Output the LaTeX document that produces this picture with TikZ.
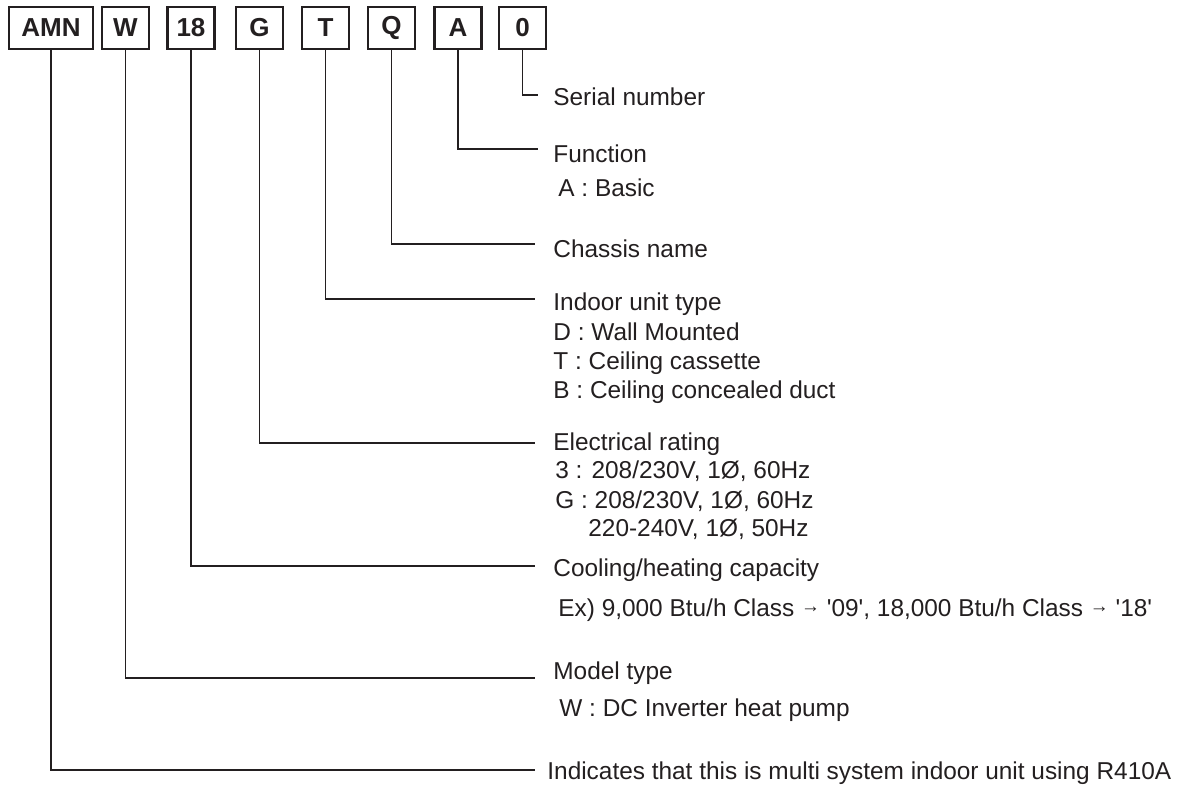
\documentclass[tikz,border=0pt]{standalone}
\usepackage{fontspec}
\newfontfamily\lib{Liberation Sans}
\definecolor{ink}{HTML}{231F20}
\newcommand{\smallarrow}{\raisebox{1.8pt}{\fontsize{9.5}{9.5}\selectfont →}}
\begin{document}
\begin{tikzpicture}[x=0.5pt,y=-0.5pt,
  codebox/.style={draw=ink, line width=1.2pt, minimum height=21pt, minimum width=23.5pt, inner sep=0pt,
    font=\lib\fontsize{13}{13}\selectfont\bfseries, text=ink},
  lbl/.style={anchor=base west, inner sep=0pt, text=ink, font=\lib\fontsize{12.2}{14.6}\selectfont},
  conn/.style={draw=ink, line width=0.95pt}]
\useasboundingbox (0,0) rectangle (1179,789);
% code boxes
\node[codebox, minimum width=42pt] (bAMN) at (51,28) {AMN};
\node[codebox] (bW) at (125.5,28) {W};
\node[codebox] (b18) at (191,28) {18};
\node[codebox] (bG) at (259.5,28) {G};
\node[codebox] (bT) at (325.5,28) {T};
\node[codebox] (bQ) at (391.5,28) {Q};
\node[codebox] (bA) at (458,28) {A};
\node[codebox] (b0) at (522.5,28) {0};
% connector ends
\coordinate (eSerial) at (538,95);
\coordinate (eFunc) at (538,149);
\coordinate (eChassis) at (535,244);
\coordinate (eIndoor) at (535,299);
\coordinate (eElec) at (535,443);
\coordinate (eCool) at (535,566);
\coordinate (eModel) at (535,678);
\coordinate (eInd) at (535,770);
\draw[conn] (b0.south) |- (eSerial);
\draw[conn] (bA.south) |- (eFunc);
\draw[conn] (bQ.south) |- (eChassis);
\draw[conn] (bT.south) |- (eIndoor);
\draw[conn] (bG.south) |- (eElec);
\draw[conn] (b18.south) |- (eCool);
\draw[conn] (bW.south) |- (eModel);
\draw[conn] (bAMN.south) |- (eInd);
% labels
\node[lbl] (tSerial) at (553,105) {Serial number};
\node[lbl] (tFunc) at (553,162) {Function};
\node[lbl] (tFuncA) at (558,196) {A : Basic};
\node[lbl] (tChassis) at (553,257) {Chassis name};
\node[lbl] (tIndoor) at (553,310) {Indoor unit type};
\node[lbl] (tIndoorD) at (553,340) {D : Wall Mounted};
\node[lbl] (tIndoorT) at (553,369) {T : Ceiling cassette};
\node[lbl] (tIndoorB) at (553,398) {B : Ceiling concealed duct};
\node[lbl] (tElec) at (553,450) {Electrical rating};
\node[lbl] (tElec3) at (555,478) {3 : 208/230V, 1Ø, 60Hz};
\node[lbl] (tElecG) at (555,508) {G : 208/230V, 1Ø, 60Hz};
\node[lbl] (tElecG2) at (588,536) {220-240V, 1Ø, 50Hz};
\node[lbl] (tCool) at (553,576) {Cooling/heating capacity};
\node[lbl] (tCoolEx) at (558,616) {Ex) 9,000 Btu/h Class \smallarrow{} '09', 18,000 Btu/h Class \smallarrow{} '18'};
\node[lbl] (tModel) at (553,679) {Model type};
\node[lbl] (tModelW) at (559,716) {W : DC Inverter heat pump};
\node[lbl] (tInd) at (547,779) {Indicates that this is multi system indoor unit using R410A};
\end{tikzpicture}
\end{document}
